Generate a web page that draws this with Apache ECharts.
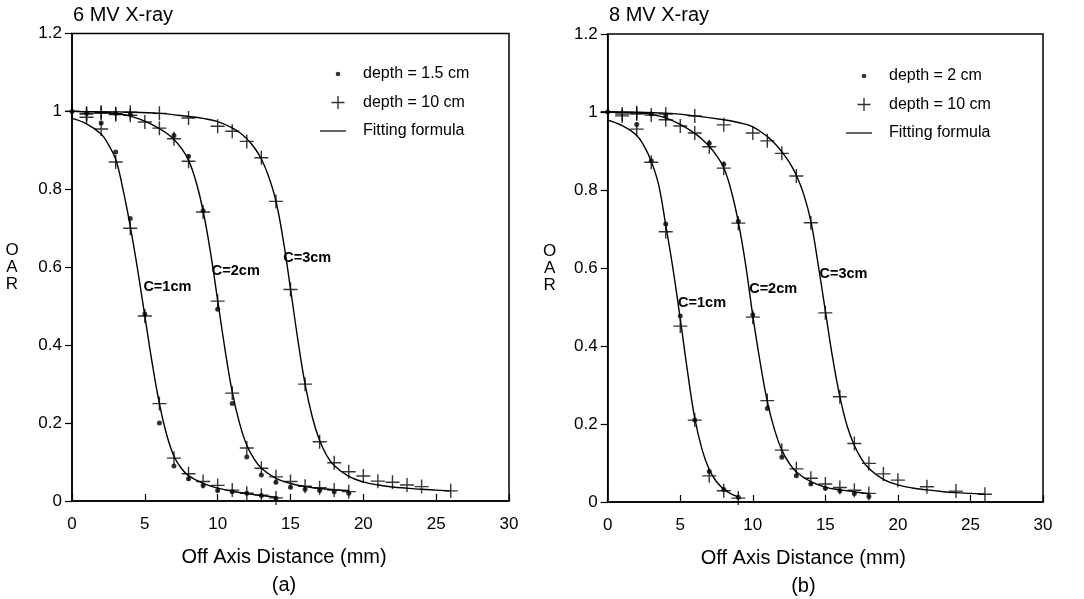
<!DOCTYPE html>
<html>
<head>
<meta charset="utf-8">
<script src="https://cdn.jsdelivr.net/npm/echarts@6/dist/echarts.min.js"></script>
<style>
  html, body { margin: 0; padding: 0; background: #fff; }
  #chart { width: 1084px; height: 599px; }
</style>
</head>
<body>
<div id="chart"></div>
<script>
// Off-axis ratio (OAR) profiles for cone sizes C = 1, 2, 3 cm, 6 MV and 8 MV beams.
const xTicks = [0, 5, 10, 15, 20, 25, 30];
const yTicks = [0, 0.2, 0.4, 0.6, 0.8, 1, 1.2];
const coneLabels = ['C=1cm', 'C=2cm', 'C=3cm'];

// ---- 6 MV ----
const dots6_c1 = [[0,1.0],[2,0.97],[3,0.896],[4,0.725],[5,0.48],[6,0.20],[7,0.09],[8,0.057],[9,0.04],[10,0.027],[11,0.024],[12,0.02],[13,0.014],[14,0.007]];
const dots6_c2 = [[1,0.995],[3,0.995],[4,0.993],[7,0.938],[8,0.885],[9,0.745],[10,0.492],[11,0.25],[12,0.113],[13,0.067],[14,0.048],[15,0.035],[16,0.03],[17,0.027],[18,0.024],[19,0.02]];
const cross6_c1 = [[1,0.985],[2,0.955],[3,0.87],[4,0.70],[5,0.475],[6,0.25],[7,0.11],[8,0.07],[9,0.05],[10,0.04],[11,0.028],[12,0.02],[13,0.015],[14,0.008]];
const cross6_c2 = [[0,1.0],[1,0.993],[2,0.995],[3,0.992],[4,0.99],[5,0.973],[6,0.957],[7,0.93],[8,0.872],[9,0.742],[10,0.513],[11,0.277],[12,0.136],[13,0.084],[14,0.062],[15,0.05],[16,0.038],[17,0.034],[18,0.028],[19,0.024]];
const cross6_c3 = [[0,1.0],[1,0.995],[2,0.998],[3,0.994],[4,0.998],[6,0.995],[8,0.983],[10,0.962],[11,0.949],[12,0.923],[13,0.881],[14,0.769],[15,0.543],[16,0.30],[17,0.152],[18,0.098],[19,0.075],[20,0.064],[21,0.051],[22,0.048],[23,0.041],[24,0.037],[26,0.026]];
const fit6_c1 = [[0,0.982],[1,0.968],[2,0.942],[2.5,0.915],[3,0.877],[3.5,0.8],[4,0.705],[4.5,0.595],[5,0.475],[5.5,0.355],[6,0.25],[6.5,0.17],[7,0.115],[7.5,0.084],[8,0.065],[9,0.045],[10,0.033],[11,0.025],[12,0.019],[13,0.014],[14,0.01]];
const fit6_c2 = [[0,1.0],[2,0.998],[3,0.995],[4,0.988],[5,0.975],[6,0.956],[6.5,0.944],[7,0.928],[7.5,0.906],[8,0.875],[8.5,0.822],[9,0.745],[9.5,0.64],[10,0.515],[10.5,0.39],[11,0.28],[11.5,0.2],[12,0.143],[12.5,0.108],[13,0.084],[14,0.058],[15,0.045],[16,0.037],[17,0.032],[18,0.029],[19,0.027]];
const fit6_c3 = [[0,1.0],[4,0.998],[6,0.995],[8,0.987],[9,0.982],[10,0.974],[11,0.958],[11.5,0.946],[12,0.93],[12.5,0.908],[13,0.878],[13.5,0.833],[14,0.77],[14.5,0.67],[15,0.545],[15.5,0.415],[16,0.3],[16.5,0.215],[17,0.155],[17.5,0.116],[18,0.091],[19,0.063],[20,0.049],[21,0.041],[22,0.036],[23,0.033],[24,0.03],[25,0.028],[26,0.026]];
const labelAt6 = [[4.9,0.55],[9.6,0.59],[14.5,0.625]];

// ---- 8 MV ----
const dots8_c1 = [[0,1.0],[2,0.968],[3,0.875],[4,0.713],[5,0.477],[6,0.21],[7,0.078],[8,0.032],[9,0.012]];
const dots8_c2 = [[3,0.995],[4,0.99],[7,0.92],[8,0.866],[9,0.72],[10,0.48],[11,0.24],[12,0.115],[13,0.067],[14,0.046],[15,0.035],[16,0.029],[17,0.022],[18,0.014]];
const cross8_c1 = [[1,0.99],[2,0.956],[3,0.871],[4,0.693],[5,0.451],[6,0.21],[7,0.067],[8,0.029],[9,0.01]];
const cross8_c2 = [[0,1.0],[1,0.995],[2,0.995],[3,0.992],[4,0.98],[5,0.964],[6,0.946],[7,0.911],[8,0.856],[9,0.715],[10,0.474],[11,0.26],[12,0.133],[13,0.085],[14,0.061],[15,0.046],[16,0.037],[17,0.03],[18,0.022]];
const cross8_c3 = [[0,1.0],[2,0.998],[4,0.995],[6,0.99],[8,0.967],[10,0.946],[11,0.926],[12,0.894],[13,0.836],[14,0.716],[15,0.485],[16,0.27],[17,0.15],[18,0.099],[19,0.072],[20,0.056],[22,0.039],[24,0.028],[26,0.02]];
const fit8_c1 = [[0,0.979],[1,0.965],[2,0.94],[2.5,0.913],[3,0.874],[3.5,0.815],[4,0.71],[4.5,0.598],[5,0.47],[5.5,0.335],[6,0.215],[6.5,0.135],[7,0.083],[7.5,0.052],[8,0.033],[8.5,0.021],[9,0.013]];
const fit8_c2 = [[0,1.0],[2,0.998],[3,0.994],[4,0.985],[5,0.968],[6,0.945],[6.5,0.93],[7,0.912],[7.5,0.888],[8,0.857],[8.5,0.8],[9,0.718],[9.5,0.61],[10,0.478],[10.5,0.36],[11,0.258],[11.5,0.185],[12,0.133],[12.5,0.1],[13,0.077],[14,0.052],[15,0.038],[16,0.031],[17,0.026],[18,0.021]];
const fit8_c3 = [[0,1.0],[4,0.997],[6,0.99],[8,0.98],[9,0.973],[10,0.962],[11,0.937],[11.5,0.92],[12,0.898],[12.5,0.872],[13,0.838],[13.5,0.79],[14,0.72],[14.5,0.61],[15,0.49],[15.5,0.37],[16,0.27],[16.5,0.195],[17,0.145],[17.5,0.11],[18,0.086],[19,0.058],[20,0.044],[21,0.036],[22,0.031],[23,0.027],[24,0.024],[25,0.022],[26,0.02]];
const labelAt8 = [[4.85,0.51],[9.75,0.546],[14.6,0.585]];

const FONT = '"Liberation Sans", Arial, Helvetica, sans-serif';
const INK = '#000';

// marker shapes
const PLUS = 'path://M0 6.3H14V7.7H0Z M6.3 0H7.7V14H6.3Z';
// legend icons, drawn in a 38 x 14 box
const ICON_DOT = 'path://M0 0M38 14M20.3 7A2.3 2.3 0 1 1 15.7 7A2.3 2.3 0 1 1 20.3 7Z';
const ICON_PLUS = 'path://M0 0M38 14M11.5 6.3H24.5V7.7H11.5ZM17.3 0.5H18.7V13.5H17.3Z';
const ICON_LINE = 'path://M0 0M38 14M0 6.4H26V7.6H0Z';

function xAxisFor(gridIndex, padRight, tag) {
  return {
    type: 'value', gridIndex, min: 0, max: 30, interval: 5,
    name: 'Off Axis Distance (mm)\n' + tag,
    nameLocation: 'middle', nameGap: 42,
    nameTextStyle: { fontFamily: FONT, fontSize: 20, color: INK, lineHeight: 28, padding: [0, padRight, 0, 0] },
    axisLine: { lineStyle: { color: INK, width: 1.5 } },
    axisTick: { inside: true, length: 7, lineStyle: { color: INK, width: 1.2 } },
    axisLabel: { fontFamily: FONT, fontSize: 17, color: INK, margin: 15,
      formatter: v => xTicks.includes(v) ? String(v) : '' },
    splitLine: { show: false }
  };
}

function yAxisFor(gridIndex, nameGap) {
  return {
    type: 'value', gridIndex, min: 0, max: 1.2, interval: 0.2,
    name: 'O\nA\nR', nameLocation: 'middle', nameRotate: 0, nameGap,
    nameTextStyle: { fontFamily: FONT, fontSize: 17, color: INK, lineHeight: 17, align: 'center', padding: [16, 0, 0, 0] },
    axisLine: { lineStyle: { color: INK, width: 1.5 } },
    axisTick: { inside: false, length: 7, lineStyle: { color: INK, width: 1.2 } },
    axisLabel: { fontFamily: FONT, fontSize: 17, color: INK, margin: 10,
      formatter: v => { const t = yTicks.find(k => Math.abs(k - v) < 1e-9); return t === undefined ? '' : String(t); } },
    splitLine: { show: false }
  };
}

function seriesFor(idx, dotName, dots, crosses, fits, labelAt) {
  const out = [
    { type: 'scatter', name: dotName, xAxisIndex: idx, yAxisIndex: idx,
      symbol: 'circle', symbolSize: 5, itemStyle: { color: INK }, data: dots, z: 4 },
    { type: 'scatter', name: 'depth = 10 cm', xAxisIndex: idx, yAxisIndex: idx,
      symbol: PLUS, symbolSize: 14, itemStyle: { color: INK }, data: crosses, z: 3 }
  ];
  fits.forEach((fit, i) => {
    out.push({
      type: 'line', name: 'Fitting formula', xAxisIndex: idx, yAxisIndex: idx,
      data: fit, smooth: 0.4, showSymbol: false, symbol: 'none',
      lineStyle: { color: INK, width: 1.4 }, itemStyle: { color: INK }, z: 2,
      markPoint: {
        silent: true, symbol: 'circle', symbolSize: 0,
        label: { show: true, position: 'right', distance: 0, formatter: '{b}',
          fontFamily: FONT, fontSize: 14.5, fontWeight: 'bold', color: INK },
        data: [{ name: coneLabels[i], coord: labelAt[i] }]
      }
    });
  });
  return out;
}

function legendFor(left, top, dotName) {
  return {
    left, top, padding: 0, orient: 'vertical', itemWidth: 38, itemHeight: 14, itemGap: 12.5,
    selectedMode: false,
    textStyle: { fontFamily: FONT, fontSize: 16, color: INK },
    data: [
      { name: dotName, icon: ICON_DOT, itemStyle: { color: INK, borderWidth: 0 } },
      { name: 'depth = 10 cm', icon: ICON_PLUS, itemStyle: { color: INK, borderWidth: 0 } },
      { name: 'Fitting formula', icon: ICON_LINE, itemStyle: { color: INK, borderWidth: 0 } }
    ]
  };
}

const gridBase = { show: true, borderColor: INK, borderWidth: 1.5, backgroundColor: 'transparent',
  containLabel: false, outerBoundsMode: 'none' };

const chart = echarts.init(document.getElementById('chart'), null, { renderer: 'canvas' });
chart.setOption({
  animation: false,
  backgroundColor: '#fff',
  title: [
    { text: '6 MV X-ray', left: 73, top: 5, padding: 0, textStyle: { fontFamily: FONT, fontSize: 20, fontWeight: 'normal', color: INK } },
    { text: '8 MV X-ray', left: 609, top: 5, padding: 0, textStyle: { fontFamily: FONT, fontSize: 20, fontWeight: 'normal', color: INK } }
  ],
  legend: [
    legendFor(320, 66, 'depth = 1.5 cm'),
    legendFor(846, 68, 'depth = 2 cm')
  ],
  grid: [
    Object.assign({ left: 72, right: 575, top: 33.5, bottom: 98 }, gridBase),
    Object.assign({ left: 607.7, right: 41, top: 34, bottom: 97 }, gridBase)
  ],
  xAxis: [xAxisFor(0, 13, '(a)'), xAxisFor(1, 44, '(b)')],
  yAxis: [yAxisFor(0, 60), yAxisFor(1, 58)],
  series: [
    ...seriesFor(0, 'depth = 1.5 cm', dots6_c1.concat(dots6_c2), cross6_c1.concat(cross6_c2, cross6_c3),
      [fit6_c1, fit6_c2, fit6_c3], labelAt6),
    ...seriesFor(1, 'depth = 2 cm', dots8_c1.concat(dots8_c2), cross8_c1.concat(cross8_c2, cross8_c3),
      [fit8_c1, fit8_c2, fit8_c3], labelAt8)
  ]
});
</script>
</body>
</html>
